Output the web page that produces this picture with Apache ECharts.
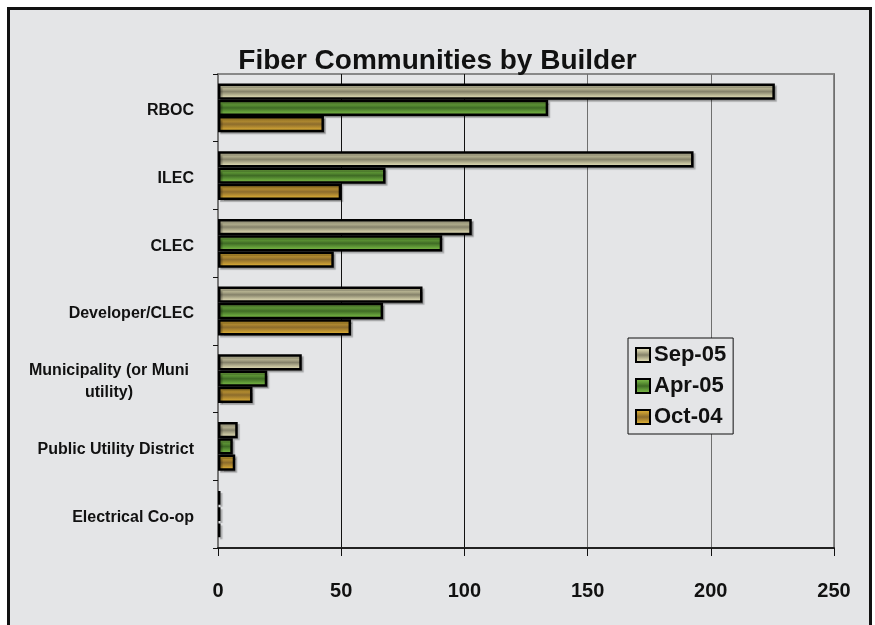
<!DOCTYPE html>
<html>
<head>
<meta charset="utf-8">
<title>Fiber Communities by Builder</title>
<script src="https://cdn.jsdelivr.net/npm/echarts@6/dist/echarts.min.js"></script>
<style>
  html, body { margin: 0; padding: 0; background: #ffffff; }
  #chart { width: 875px; height: 625px; }
</style>
</head>
<body>
<div id="chart"></div>
<script>
// Builder categories, top to bottom
const builders = [
  'RBOC',
  'ILEC',
  'CLEC',
  'Developer/CLEC',
  'Municipality (or Muni\nutility)',
  'Public Utility District',
  'Electrical Co-op'
];

// Number of fiber communities per survey date
const sep05 = [226, 193, 103, 83, 34, 8, 1];
const apr05 = [134, 68, 91, 67, 20, 6, 1];
const oct04 = [43, 50, 47, 54, 14, 7, 1];

const seriesNames = ['Sep-05', 'Apr-05', 'Oct-04'];
const xTicks = [0, 50, 100, 150, 200, 250];

const FONT = 'Arial, "Liberation Sans", sans-serif';

// Cylinder-like shading for horizontal bars: light edges, darker centre band
function shade(light, mid, dark, bottom) {
  return new echarts.graphic.LinearGradient(0, 0, 0, 1, [
    { offset: 0, color: light },
    { offset: 0.25, color: mid },
    { offset: 0.5, color: dark },
    { offset: 0.75, color: mid },
    { offset: 1, color: bottom }
  ]);
}

const fills = [
  shade('#f1eecf', '#c4c09c', '#85826a', '#f3efca'),
  shade('#8fc556', '#65a03a', '#3f6b25', '#86c04e'),
  shade('#ecbd36', '#c09632', '#8c6c2c', '#f5c638')
];

const chart = echarts.init(document.getElementById('chart'), null, { renderer: 'canvas' });

const option = {
  backgroundColor: '#ffffff',
  animation: false,
  graphic: [{
    type: 'rect',
    z: -10,
    silent: true,
    shape: { x: 8.5, y: 8.5, width: 862, height: 640 },
    style: { fill: '#e4e5e7', stroke: '#111111', lineWidth: 3 }
  }],
  title: {
    text: 'Fiber Communities by Builder',
    left: 'center',
    top: 42,
    textStyle: { fontFamily: FONT, fontSize: 28, fontWeight: 'bold', color: '#111111' }
  },
  legend: {
    orient: 'vertical',
    left: 628,
    top: 338,
    padding: [6, 7, 6, 7],
    itemGap: 9,
    itemWidth: 14,
    itemHeight: 14,
    backgroundColor: '#e4e5e7',
    borderColor: '#111111',
    borderWidth: 1,
    icon: 'rect',
    data: seriesNames,
    textStyle: { fontFamily: FONT, fontSize: 22, fontWeight: 'bold', color: '#111111', padding: [0, 0, 0, -1] }
  },
  grid: {
    left: 218,
    right: 41,
    top: 74,
    bottom: 77,
    show: true,
    borderColor: '#888888',
    borderWidth: 2,
    backgroundColor: 'transparent'
  },
  xAxis: {
    type: 'value',
    min: xTicks[0],
    max: xTicks[xTicks.length - 1],
    interval: xTicks[1] - xTicks[0],
    axisLine: { show: true, lineStyle: { color: '#222222', width: 2 } },
    axisTick: { show: true, length: 8, lineStyle: { color: '#111111', width: 1 } },
    splitLine: {
      show: true,
      lineStyle: { color: ['#111111', '#111111', '#111111', '#6f6f6f', '#6f6f6f', '#6f6f6f'], width: 1 }
    },
    axisLabel: {
      margin: 33,
      fontFamily: FONT,
      fontSize: 20,
      fontWeight: 'bold',
      color: '#111111'
    }
  },
  yAxis: {
    type: 'category',
    inverse: true,
    data: builders,
    axisLine: { show: true, lineStyle: { color: '#777777', width: 2 } },
    axisTick: { show: true, length: 5, lineStyle: { color: '#111111', width: 1 } },
    axisLabel: {
      margin: 24,
      fontFamily: FONT,
      fontSize: 16,
      fontWeight: 'bold',
      color: '#111111',
      padding: [6, 0, 0, 0],
      formatter: function (v) {
        if (v.indexOf('\n') < 0) return v;
        return v.split('\n').map(function (line) { return '{c|' + line + '}'; }).join('\n');
      },
      rich: {
        c: {
          width: 170,
          align: 'center',
          fontFamily: FONT,
          fontSize: 16,
          fontWeight: 'bold',
          color: '#111111',
          lineHeight: 22
        }
      }
    }
  },
  series: [sep05, apr05, oct04].map(function (vals, i) {
    return {
      name: seriesNames[i],
      type: 'bar',
      data: vals,
      barGap: '0%',
      barCategoryGap: '28%',
      itemStyle: {
        color: fills[i],
        borderColor: '#000000',
        borderWidth: 2.5,
        shadowColor: 'rgba(0,0,0,0.25)',
        shadowOffsetX: 2,
        shadowOffsetY: 2,
        shadowBlur: 1
      }
    };
  })
};

chart.setOption(option);
</script>
</body>
</html>
